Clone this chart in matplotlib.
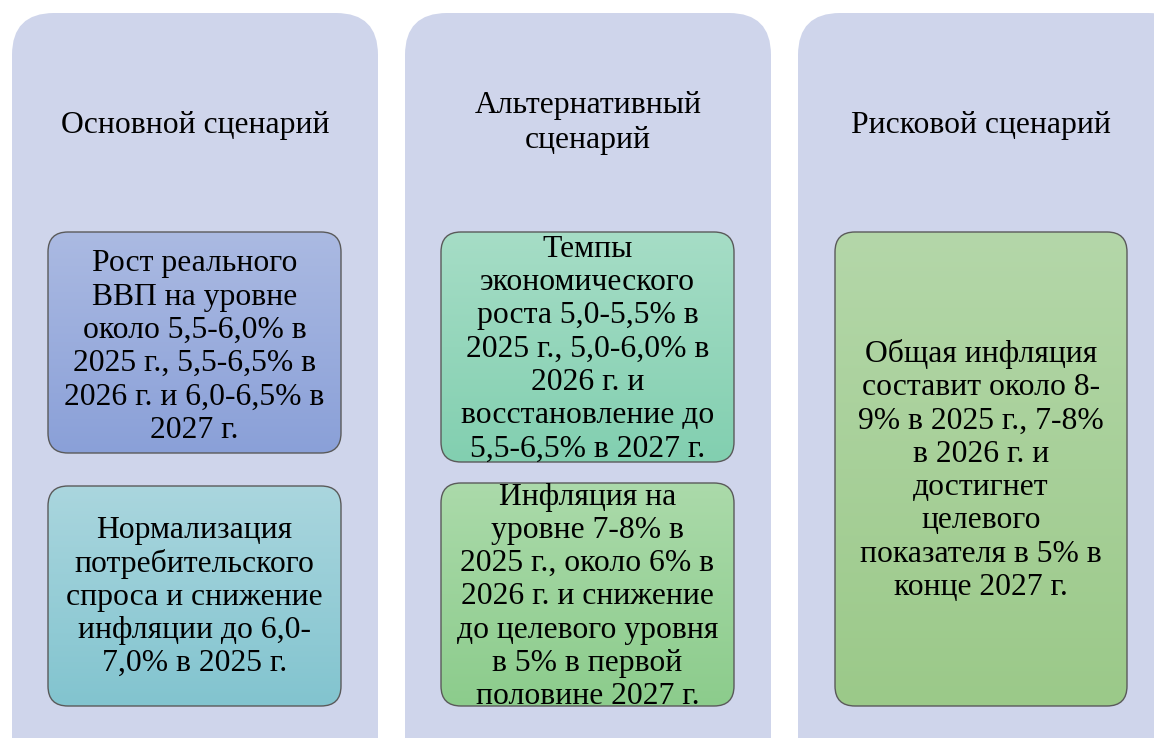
import matplotlib
matplotlib.use("Agg")
import matplotlib.pyplot as plt
import numpy as np
from matplotlib.patches import FancyBboxPatch
from matplotlib.colors import to_rgb

# ---- content ----
titles = ["Основной сценарий", "Альтернативный\nсценарий", "Рисковой сценарий"]

box_texts = [
    ["Рост реального", "ВВП на уровне", "около 5,5-6,0% в", "2025 г., 5,5-6,5% в",
     "2026 г. и 6,0-6,5% в", "2027 г."],
    ["Нормализация", "потребительского", "спроса и снижение", "инфляции до 6,0-",
     "7,0% в 2025 г."],
    ["Темпы", "экономического", "роста 5,0-5,5% в", "2025 г., 5,0-6,0% в",
     "2026 г. и", "восстановление до", "5,5-6,5% в 2027 г."],
    ["Инфляция на", "уровне 7-8% в", "2025 г., около 6% в", "2026 г. и снижение",
     "до целевого уровня", "в 5% в первой", "половине 2027 г."],
    ["Общая инфляция", "составит около 8-", "9% в 2025 г., 7-8%", "в 2026 г. и",
     "достигнет", "целевого", "показателя в 5% в", "конце 2027 г."],
]

# ---- layout / style ----
W, H = 1154, 738
FONT = "Liberation Serif"
panel_color = "#CFD5EB"
panels = [(12, 378), (405, 771), (798, 1190)]   # x extents
panel_centers = [195, 588, 981]
panel_top = 13
panel_bottom = 790
title_y = [126, 123, 126]

# boxes: (x0, x1, y0, y1, top color, bottom color, text center y)
boxes = [
    (48, 341, 232, 453, "#ABBAE2", "#8AA0D8", 347),
    (48, 341, 486, 706, "#AAD6DE", "#82C4CF", 597),
    (441, 734, 232, 462, "#A6DDC6", "#82CFB0", 349),
    (441, 734, 483, 706, "#ABDAAA", "#8CCC8C", 597),
    (835, 1127, 232, 706, "#B4D7A9", "#9BC989", 471),
]

fig = plt.figure(figsize=(W / 100, H / 100), dpi=100)
ax = fig.add_axes([0, 0, 1, 1])
ax.set_xlim(0, W)
ax.set_ylim(H, 0)
ax.axis("off")

for (x0, x1) in panels:
    p = FancyBboxPatch((x0, panel_top), x1 - x0, panel_bottom - panel_top,
                       boxstyle="round,pad=0,rounding_size=42",
                       fc=panel_color, ec="none", zorder=1)
    ax.add_patch(p)

fs = 22.8
for cx, t, ty in zip(panel_centers, titles, title_y):
    lines = t.split("\n")
    n = len(lines)
    for i, ln in enumerate(lines):
        yy = ty + (i - (n - 1) / 2) * 35
        ax.text(cx, yy, ln, fontsize=fs, family=FONT, ha="center",
                va="center", color="black", zorder=5)

line_gap = 33.3
for (x0, x1, y0, y1, c0, c1, tc), lines in zip(boxes, box_texts):
    a = np.array(to_rgb(c0))
    b = np.array(to_rgb(c1))
    t = np.linspace(0, 1, 256)[:, None]
    grad = (a[None, :] * (1 - t) + b[None, :] * t)[:, None, :]
    patch = FancyBboxPatch((x0, y0), x1 - x0, y1 - y0,
                           boxstyle="round,pad=0,rounding_size=20",
                           fc="none", ec="#5A5A5A", lw=1.0, zorder=4)
    ax.add_patch(patch)
    im = ax.imshow(grad, extent=(x0, x1, y1, y0), origin="upper",
                   aspect="auto", zorder=3, interpolation="bilinear")
    im.set_clip_path(patch)
    cx = (x0 + x1) / 2
    n = len(lines)
    for i, ln in enumerate(lines):
        yy = tc + (i - (n - 1) / 2) * line_gap
        ax.text(cx, yy, ln, fontsize=fs, family=FONT, ha="center",
                va="center", color="black", zorder=5)

ax.set_xlim(0, W)
ax.set_ylim(H, 0)
fig.savefig("out.png", dpi=100, facecolor="white")
